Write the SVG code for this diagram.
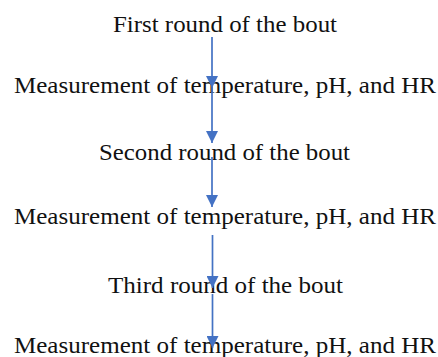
<svg xmlns="http://www.w3.org/2000/svg" width="438" height="357" viewBox="0 0 438 357">
  <style>
    .label { font-family: "Liberation Serif", "Times New Roman", serif; font-size: 23px; fill: #111111; text-anchor: middle; }
    .flow { stroke: #4472C4; stroke-width: 1.7; fill: none; marker-end: url(#head); }
  </style>
  <defs>
    <!-- triangular arrowhead pointing along the line direction -->
    <marker id="head" viewBox="0 0 12 12" refX="12" refY="6" markerWidth="12" markerHeight="12" markerUnits="userSpaceOnUse" orient="auto">
      <path d="M0,0 L12,6 L0,12 Z" fill="#4472C4"/>
    </marker>
  </defs>
  <rect width="438" height="357" fill="#ffffff"/>

  <g id="round1"><text class="label" x="225" y="32" textLength="224" lengthAdjust="spacingAndGlyphs">First round of the bout</text></g>
  <g id="measure1"><text class="label" x="225" y="93" textLength="422" lengthAdjust="spacingAndGlyphs">Measurement of temperature, pH, and HR</text></g>
  <g id="round2"><text class="label" x="224.5" y="160" textLength="251" lengthAdjust="spacingAndGlyphs">Second round of the bout</text></g>
  <g id="measure2"><text class="label" x="225" y="224" textLength="422" lengthAdjust="spacingAndGlyphs">Measurement of temperature, pH, and HR</text></g>
  <g id="round3"><text class="label" x="225.5" y="293" textLength="235" lengthAdjust="spacingAndGlyphs">Third round of the bout</text></g>
  <g id="measure3"><text class="label" x="225" y="353" textLength="422" lengthAdjust="spacingAndGlyphs">Measurement of temperature, pH, and HR</text></g>

  <g id="connectors">
    <line class="flow" x1="212" y1="37" x2="212" y2="88"/>
    <line class="flow" x1="212" y1="88" x2="212" y2="143"/>
    <line class="flow" x1="212" y1="157" x2="212" y2="207"/>
    <line class="flow" x1="212.5" y1="235" x2="212.5" y2="288"/>
    <line class="flow" x1="212.5" y1="294" x2="212.5" y2="348"/>
  </g>
</svg>
